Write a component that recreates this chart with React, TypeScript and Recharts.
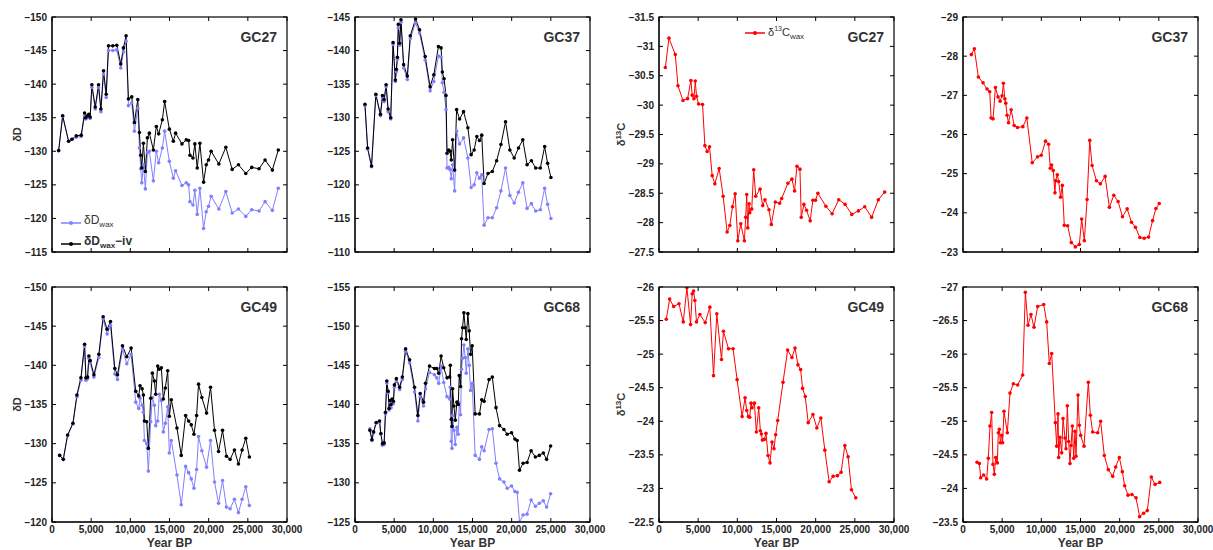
import { LineChart, Line, XAxis, YAxis, Legend, Label } from 'recharts';

const FONT = '"Liberation Sans", Arial, Helvetica, sans-serif';
const BLUE = '#8080ff';
const BLACK = '#000000';
const RED = '#ff0000';

// layout of one panel (plot area is PLOT x PLOT)
const PLOT = 235;
const AXIS_W = 50;
const M_TOP = 10;
const M_RIGHT = 20;
const X_H = 35;
const TICK_LEN = 4;

const X_MAX = 30000;
const xTicks = [0, 5000, 10000, 15000, 20000, 25000, 30000];

// ---- GC27 dD ----
const gc27Years = [850, 1360, 2120, 2550, 3100, 3730, 4160, 4300, 4500, 4700, 4870, 5090, 5520, 5940, 6240, 6580, 6920, 7210, 7760, 8270, 8780, 9120, 9460, 9760, 10180, 10520, 10950, 11160, 11330, 11460, 11670, 11920, 12180, 12430, 12940, 13320, 13620, 14090, 14380, 14980, 15490, 15780, 16590, 17140, 17440, 17610, 17990, 18240, 18540, 18880, 19350, 19690, 19980, 20320, 21300, 22190, 23000, 23800, 24740, 25500, 26430, 27200, 28130, 28890];
const gc27Iv = [-130.1, -135.3, -131.5, -131.8, -132.3, -132.4, -135.7, -135.0, -135.3, -135.5, -135.1, -139.9, -136.6, -139.9, -136.3, -142.0, -138.5, -145.7, -145.7, -145.8, -143.0, -145.4, -147.2, -137.8, -138.1, -134.3, -137.7, -132.8, -129.4, -127.5, -131.2, -127.0, -132.0, -132.7, -130.2, -133.7, -132.6, -134.7, -137.4, -133.3, -131.5, -132.7, -131.1, -131.7, -131.6, -129.4, -129.0, -131.1, -127.5, -131.2, -125.4, -128.0, -128.7, -130.0, -128.1, -130.6, -127.3, -128.0, -126.7, -127.6, -127.4, -128.7, -127.2, -130.2];
const gc27Wax = [-130.1, -135.2, -131.5, -131.8, -132.1, -132.2, -135.3, -134.8, -135.0, -135.2, -134.9, -139.5, -136.3, -139.5, -135.9, -141.5, -138.0, -145.0, -145.0, -145.1, -142.4, -144.8, -146.4, -136.8, -137.2, -133.0, -136.4, -130.5, -127.4, -125.3, -128.0, -124.4, -129.8, -130.0, -125.6, -130.0, -128.3, -130.5, -133.0, -128.5, -126.0, -127.1, -124.9, -125.3, -125.0, -122.5, -122.0, -124.2, -120.6, -124.5, -118.5, -121.0, -121.8, -123.3, -121.4, -124.0, -120.8, -121.4, -120.3, -121.3, -121.1, -122.5, -121.2, -124.5];

// ---- GC37 dD ----
const gc37Years = [1270, 1610, 2110, 2660, 3250, 3510, 3720, 3970, 4230, 4560, 4860, 5150, 5280, 5410, 5530, 5700, 5870, 6210, 6680, 7060, 7730, 8240, 8960, 9590, 10060, 10650, 10990, 11150, 11370, 11620, 11750, 11960, 12130, 12290, 12460, 12720, 12970, 13350, 13860, 14410, 14830, 15210, 15550, 15890, 16180, 16480, 16980, 17530, 18080, 18630, 19220, 19770, 20320, 20870, 21420, 21970, 22520, 23070, 23660, 24210, 24590, 25010];
const gc37Iv = [-132.0, -125.5, -122.8, -133.5, -130.5, -133.3, -132.7, -134.9, -131.3, -130.0, -141.2, -135.6, -137.2, -139.0, -143.9, -141.1, -144.6, -137.9, -136.2, -142.2, -144.7, -143.1, -139.1, -134.6, -136.4, -140.6, -140.4, -136.8, -135.8, -133.3, -124.7, -125.2, -125.0, -123.7, -126.7, -122.2, -131.2, -129.8, -130.9, -128.5, -124.5, -125.2, -127.2, -126.6, -127.4, -120.2, -121.7, -122.0, -123.6, -126.0, -129.4, -125.2, -124.0, -125.5, -126.7, -123.0, -123.6, -122.5, -122.5, -125.7, -123.2, -121.1];
const gc37Wax = [-131.8, -125.3, -122.7, -133.3, -130.3, -133.0, -132.4, -134.6, -130.9, -129.8, -140.9, -135.4, -136.9, -138.7, -143.4, -140.8, -144.2, -137.4, -135.7, -141.8, -144.1, -142.6, -138.6, -134.0, -135.4, -139.2, -139.0, -135.2, -133.8, -131.2, -122.5, -122.6, -122.3, -120.9, -123.0, -119.1, -128.0, -126.1, -127.0, -124.0, -119.6, -120.0, -121.8, -121.0, -121.5, -114.0, -115.1, -115.1, -116.6, -119.1, -122.5, -118.4, -117.3, -118.9, -120.3, -116.5, -117.2, -116.1, -116.3, -119.5, -117.1, -115.0];

// ---- GC49 dD ----
const gc49Years = [980, 1440, 1990, 2670, 3180, 3690, 4160, 4330, 4540, 4710, 4880, 5350, 5980, 6530, 7040, 7470, 8020, 8360, 9000, 9550, 10100, 10690, 11070, 11240, 11500, 11670, 11800, 12090, 12300, 12600, 12810, 13070, 13240, 13490, 13700, 13960, 14210, 14470, 14770, 14980, 15230, 15950, 16500, 17060, 17440, 17780, 18120, 18460, 18710, 19130, 19730, 20240, 20750, 21260, 21770, 22270, 22740, 23290, 23800, 24270, 24740, 25200];
const gc49Iv = [-128.5, -128.0, -131.1, -132.6, -136.2, -138.4, -142.7, -138.4, -138.5, -141.2, -140.6, -138.8, -141.4, -146.2, -144.6, -145.6, -139.6, -138.8, -142.5, -141.1, -142.2, -136.7, -136.1, -137.4, -137.0, -136.2, -132.9, -132.8, -129.4, -135.8, -139.0, -138.0, -136.3, -139.9, -139.5, -139.7, -135.7, -137.1, -139.3, -133.5, -135.6, -132.0, -128.5, -133.6, -132.9, -132.4, -131.2, -133.6, -137.6, -135.9, -133.9, -137.2, -131.7, -129.0, -131.7, -128.4, -128.0, -129.2, -127.4, -129.2, -130.7, -128.3];
const gc49Wax = [-128.5, -128.0, -131.0, -132.5, -136.0, -138.1, -142.4, -138.1, -138.3, -140.9, -140.3, -138.5, -141.0, -145.9, -144.0, -145.1, -138.9, -138.2, -142.0, -140.2, -141.4, -135.3, -134.5, -135.8, -134.9, -134.0, -130.4, -130.0, -126.5, -132.8, -135.9, -134.9, -132.3, -132.9, -136.3, -135.5, -131.5, -132.6, -134.7, -128.8, -130.4, -126.0, -122.2, -127.1, -126.3, -125.5, -124.3, -126.7, -130.9, -129.1, -127.0, -130.4, -125.1, -122.4, -125.3, -121.9, -121.7, -122.9, -121.2, -122.9, -124.5, -122.1];

// ---- GC68 dD ----
const gc68Years = [1900, 2160, 2370, 2700, 3130, 3300, 3510, 3720, 3890, 4060, 4230, 4350, 4480, 4610, 4730, 4900, 5030, 5280, 5700, 6040, 6460, 6970, 7600, 8030, 8320, 8750, 9000, 9510, 10140, 10440, 10690, 10990, 11320, 11750, 12080, 12170, 12290, 12380, 12460, 12630, 12800, 13010, 13180, 13310, 13480, 13600, 13730, 13900, 14070, 14200, 14410, 14580, 14750, 14960, 15340, 15890, 16180, 16480, 17110, 17530, 18000, 18460, 19010, 19430, 19980, 20410, 20700, 21000, 21460, 21970, 22480, 23030, 23530, 24040, 24460, 24970];
const gc68Iv = [-136.7, -135.5, -136.5, -137.7, -137.9, -136.3, -135.0, -135.1, -139.0, -143.0, -141.7, -139.5, -140.5, -140.0, -140.7, -140.4, -142.5, -143.3, -142.2, -143.5, -147.1, -145.7, -142.2, -138.6, -141.4, -140.3, -142.7, -144.9, -144.6, -144.6, -144.0, -146.2, -144.7, -143.4, -143.5, -145.0, -138.1, -137.2, -142.0, -139.8, -138.0, -140.3, -140.0, -143.7, -142.3, -148.4, -149.8, -151.7, -149.8, -148.3, -151.6, -149.4, -146.4, -147.5, -138.8, -138.8, -140.6, -140.4, -143.2, -143.5, -139.6, -137.3, -136.8, -136.2, -136.4, -135.6, -135.4, -131.6, -132.5, -132.6, -134.1, -133.3, -133.5, -133.8, -133.0, -134.7];
const gc68Wax = [-136.9, -135.4, -136.4, -137.6, -137.7, -136.2, -134.8, -134.9, -138.8, -142.7, -141.5, -139.3, -140.2, -139.6, -140.4, -140.1, -142.2, -143.0, -141.9, -143.2, -146.8, -145.3, -141.6, -137.9, -141.0, -139.8, -142.0, -144.1, -143.8, -143.4, -142.7, -144.9, -142.8, -141.0, -140.7, -142.2, -135.3, -134.4, -138.6, -136.7, -134.9, -137.1, -136.2, -140.2, -138.7, -144.5, -145.9, -147.6, -146.0, -144.0, -147.1, -145.0, -141.8, -142.7, -133.5, -133.0, -134.6, -134.1, -136.8, -136.9, -132.5, -130.5, -130.1, -129.3, -129.6, -128.9, -128.8, -125.0, -125.9, -126.0, -127.8, -127.0, -127.4, -127.7, -126.9, -128.6];

// ---- GC27 d13C ----
const c27Years = [810, 1270, 2080, 2420, 3060, 3650, 4070, 4240, 4460, 4630, 4790, 5050, 5560, 5860, 6150, 6450, 6790, 7130, 7680, 8190, 8700, 9040, 9380, 9720, 10060, 10440, 10900, 11070, 11200, 11330, 11500, 11580, 11840, 12090, 12350, 12900, 13240, 13530, 14040, 14340, 14850, 15400, 15660, 16460, 16970, 17310, 17610, 17990, 18160, 18500, 18840, 19300, 19640, 19980, 20280, 21300, 22100, 22950, 23760, 24610, 25460, 26260, 27150, 28000, 28810];
const c27Vals = [-30.64, -31.14, -30.86, -30.33, -30.08, -30.11, -30.42, -30.17, -30.11, -30.41, -30.15, -30.02, -30.01, -29.31, -29.21, -29.29, -28.8, -28.66, -28.92, -28.45, -27.84, -27.95, -28.27, -28.49, -27.69, -27.98, -27.69, -28.09, -28.48, -27.91, -28.32, -28.17, -28.23, -28.9, -28.45, -28.57, -28.29, -28.39, -28.22, -27.97, -28.35, -28.33, -28.41, -28.67, -28.74, -28.54, -28.96, -28.91, -28.09, -28.31, -28.21, -28.03, -28.38, -28.38, -28.5, -28.28, -28.15, -28.39, -28.31, -28.14, -28.2, -28.27, -28.09, -28.39, -28.52];

// ---- GC37 d13C ----
const c37Years = [1070, 1450, 1960, 2560, 3070, 3410, 3590, 3840, 4140, 4480, 4740, 4990, 5160, 5340, 5460, 5630, 5810, 6150, 6530, 6960, 7640, 8150, 8840, 9520, 9990, 10540, 10930, 11140, 11310, 11520, 11740, 11820, 12040, 12210, 12460, 12680, 12930, 13360, 13830, 14340, 14850, 15150, 15490, 15840, 16180, 16480, 17030, 17540, 18140, 18690, 19250, 19800, 20360, 20960, 21510, 22020, 22580, 23130, 23690, 24200, 24630, 25050];
const c37Vals = [-28.04, -28.19, -27.47, -27.32, -27.16, -27.09, -26.42, -26.4, -27.2, -26.96, -26.85, -26.99, -27.31, -26.91, -26.8, -26.49, -26.3, -26.63, -26.23, -26.18, -26.2, -26.42, -25.28, -25.43, -25.47, -25.83, -25.75, -25.14, -25.22, -25.08, -24.51, -24.82, -24.97, -24.8, -24.4, -24.7, -23.68, -23.67, -23.24, -23.13, -23.19, -23.84, -23.29, -24.34, -25.85, -25.21, -24.82, -24.74, -24.93, -24.14, -24.45, -24.29, -23.9, -24.1, -23.76, -23.63, -23.37, -23.35, -23.38, -23.8, -24.11, -24.24];

// ---- GC49 d13C ----
const c49Years = [930, 1360, 1870, 2550, 3100, 3560, 4030, 4240, 4410, 4580, 4790, 5220, 5900, 6490, 6960, 7380, 7980, 8230, 8870, 9460, 9970, 10610, 10990, 11200, 11410, 11580, 11750, 11880, 12180, 12430, 12730, 12940, 13070, 13200, 13450, 13660, 13920, 14170, 14430, 14680, 14890, 15150, 15830, 16420, 16970, 17360, 17740, 18080, 18330, 18670, 19050, 19650, 20150, 20660, 21170, 21720, 22230, 22780, 23250, 23720, 24140, 24570, 25120];
const c49Vals = [-25.52, -25.82, -25.71, -25.75, -25.48, -25.99, -25.44, -25.9, -25.94, -25.8, -25.48, -25.59, -25.47, -25.7, -24.68, -25.6, -24.92, -25.34, -25.08, -25.08, -24.62, -24.07, -24.35, -24.16, -24.07, -24.06, -24.27, -24.2, -24.27, -23.84, -24.2, -23.86, -23.81, -23.72, -23.73, -23.82, -23.49, -23.38, -23.69, -23.59, -23.8, -24.01, -24.58, -25.06, -24.95, -25.09, -24.84, -24.77, -24.49, -24.37, -23.98, -24.1, -23.9, -24.05, -23.57, -23.1, -23.18, -23.19, -23.24, -23.64, -23.47, -22.98, -22.86];

// ---- GC68 d13C ----
const c68Years = [1790, 2090, 2260, 2640, 3020, 3230, 3450, 3660, 3830, 4000, 4170, 4380, 4510, 4640, 4770, 4940, 5060, 5230, 5660, 6000, 6430, 6980, 7620, 7960, 8300, 8680, 9060, 9530, 10300, 10680, 11020, 11320, 11790, 11960, 12130, 12210, 12380, 12600, 12770, 13020, 13150, 13320, 13490, 13660, 13790, 13960, 14130, 14300, 14430, 14680, 14850, 15020, 15450, 16000, 16260, 16550, 17190, 17570, 18040, 18550, 19110, 19490, 19960, 20340, 20640, 21060, 21570, 22090, 22550, 23060, 23530, 24040, 24510, 25110];
const c68Vals = [-24.39, -24.37, -24.16, -24.2, -24.14, -24.45, -24.93, -25.13, -24.36, -24.21, -24.46, -24.38, -24.83, -24.88, -24.68, -24.79, -24.68, -25.15, -24.83, -25.42, -25.56, -25.54, -25.69, -26.92, -26.43, -26.59, -26.4, -26.71, -26.74, -26.48, -25.86, -26.01, -24.98, -24.63, -25.11, -24.46, -24.76, -24.53, -25.04, -24.75, -24.59, -25.23, -24.7, -24.37, -24.64, -24.93, -24.45, -24.85, -24.48, -25.39, -24.94, -24.79, -24.63, -25.58, -25.09, -24.84, -24.83, -25.0, -24.49, -24.28, -24.18, -24.32, -24.46, -24.25, -24.04, -23.9, -23.91, -23.86, -23.58, -23.63, -23.67, -24.17, -24.06, -24.09];

// y ticks
const ticks27dD = [-150, -145, -140, -135, -130, -125, -120, -115];
const ticks37dD = [-145, -140, -135, -130, -125, -120, -115, -110];
const ticks49dD = [-150, -145, -140, -135, -130, -125, -120];
const ticks68dD = [-155, -150, -145, -140, -135, -130, -125];
const ticks27c = [-31.5, -31, -30.5, -30, -29.5, -29, -28.5, -28, -27.5];
const ticks37c = [-29, -28, -27, -26, -25, -24, -23];
const ticks49c = [-26, -25.5, -25, -24.5, -24, -23.5, -23, -22.5];
const ticks68c = [-27, -26.5, -26, -25.5, -25, -24.5, -24, -23.5];

const dDRows = (years: number[], wax: number[], iv: number[]) =>
  years.map((year, i) => ({ year, wax: wax[i], iv: iv[i] }));
const cRows = (years: number[], vals: number[]) =>
  years.map((year, i) => ({ year, c13: vals[i] }));

const dDSeries = [
  { key: 'wax', color: BLUE },
  { key: 'iv', color: BLACK },
];
const cSeries = [{ key: 'c13', color: RED }];

const minus = (v: number) => (v < 0 ? '\u2212' + Math.abs(v) : String(v));
const thousands = (v: number) => v.toLocaleString('en-US');

const tickText = {
  fontSize: 10,
  fontWeight: 'bold' as const,
  fill: '#222',
  fontFamily: FONT,
};

// ticks point inward (MATLAB style); each tick is mirrored on the opposite frame side
const leftTick = (p: any) => (
  <g>
    <line x1={p.x + 5} x2={p.x + 5 + TICK_LEN} y1={p.y} y2={p.y} stroke="#000" />
    <line x1={p.x + 5 + PLOT} x2={p.x + 5 + PLOT - TICK_LEN} y1={p.y} y2={p.y} stroke="#000" />
    <text x={p.x} y={p.y} dy="0.35em" textAnchor="end" {...tickText}>
      {minus(p.payload.value)}
    </text>
  </g>
);
const bottomTick = (show: boolean) => (p: any) => (
  <g>
    <line x1={p.x} x2={p.x} y1={p.y - 3} y2={p.y - 3 - TICK_LEN} stroke="#000" />
    <line x1={p.x} x2={p.x} y1={p.y - 3 - PLOT} y2={p.y - 3 - PLOT + TICK_LEN} stroke="#000" />
    {show && (
      <text x={p.x} y={p.y + 1} dy="0.71em" textAnchor="middle" {...tickText}>
        {thousands(p.payload.value)}
      </text>
    )}
  </g>
);

const yLabel = (kind: string) => (p: any) => {
  const vb = p.viewBox;
  const x = vb.x + (kind === 'dD' ? 19 : 16);
  const y = vb.y + vb.height / 2;
  return (
    <text
      x={x}
      y={y}
      transform={`rotate(-90, ${x}, ${y})`}
      textAnchor="middle"
      fontSize={11}
      fontWeight="bold"
      fill="#333"
      fontFamily={FONT}
    >
      {kind === 'dD' ? (
        '\u03b4D'
      ) : (
        <>
          <tspan>{'\u03b4'}</tspan>
          <tspan dy={-4} fontSize={8}>13</tspan>
          <tspan dy={4}>C</tspan>
        </>
      )}
    </text>
  );
};

const xLabel = (p: any) => {
  const vb = p.viewBox;
  return (
    <text
      x={vb.x + vb.width / 2}
      y={vb.y + 25}
      textAnchor="middle"
      fontSize={12}
      fontWeight="bold"
      fill="#333"
      fontFamily={FONT}
    >
      Year BP
    </text>
  );
};

const Swatch = ({ color }: { color: string }) => (
  <svg width={20} height={8} style={{ marginRight: 3 }}>
    <line x1={0} x2={20} y1={4} y2={4} stroke={color} strokeWidth={1.5} />
    <circle cx={10} cy={4} r={2} fill={color} />
  </svg>
);

const legendText = { fontFamily: FONT, fontSize: 12, color: '#333', whiteSpace: 'nowrap' as const };
const subStyle = { fontSize: 8, verticalAlign: 'sub' as const };

const dDLegend = () => (
  <div style={{ ...legendText, lineHeight: '17px' }}>
    <div style={{ display: 'flex', alignItems: 'center' }}>
      <Swatch color={BLUE} />
      <span>
        δD<span style={subStyle}>wax</span>
      </span>
    </div>
    <div style={{ display: 'flex', alignItems: 'center', fontWeight: 'bold' }}>
      <Swatch color={BLACK} />
      <span>
        δD<span style={subStyle}>wax</span>−iv
      </span>
    </div>
  </div>
);

const cLegend = () => (
  <div style={{ ...legendText, fontSize: 11, display: 'flex', alignItems: 'center' }}>
    <Swatch color={RED} />
    <span>
      δ<span style={{ fontSize: 7, verticalAlign: 'super' }}>13</span>C
      <span style={subStyle}>wax</span>
    </span>
  </div>
);

const panels = [
  { id: 'a', left: 52, top: 17, data: dDRows(gc27Years, gc27Wax, gc27Iv), series: dDSeries, ticks: ticks27dD, y: 'dD', title: 'GC27', legend: 'dD', xl: false },
  { id: 'b', left: 355, top: 17, data: dDRows(gc37Years, gc37Wax, gc37Iv), series: dDSeries, ticks: ticks37dD, y: '', title: 'GC37', legend: '', xl: false },
  { id: 'c', left: 659, top: 17, data: cRows(c27Years, c27Vals), series: cSeries, ticks: ticks27c, y: 'c', title: 'GC27', legend: 'c', xl: false },
  { id: 'd', left: 963, top: 17, data: cRows(c37Years, c37Vals), series: cSeries, ticks: ticks37c, y: '', title: 'GC37', legend: '', xl: false },
  { id: 'e', left: 52, top: 287, data: dDRows(gc49Years, gc49Wax, gc49Iv), series: dDSeries, ticks: ticks49dD, y: 'dD', title: 'GC49', legend: '', xl: true },
  { id: 'f', left: 355, top: 287, data: dDRows(gc68Years, gc68Wax, gc68Iv), series: dDSeries, ticks: ticks68dD, y: '', title: 'GC68', legend: '', xl: true },
  { id: 'g', left: 659, top: 287, data: cRows(c49Years, c49Vals), series: cSeries, ticks: ticks49c, y: 'c', title: 'GC49', legend: '', xl: true },
  { id: 'h', left: 963, top: 287, data: cRows(c68Years, c68Vals), series: cSeries, ticks: ticks68c, y: '', title: 'GC68', legend: '', xl: true },
];

function Panel({ p }: { p: (typeof panels)[number] }) {
  const W = AXIS_W + PLOT + M_RIGHT;
  const H = M_TOP + PLOT + X_H;
  const yTop = p.ticks[0];
  const yBottom = p.ticks[p.ticks.length - 1];
  const axisLine = { stroke: '#000', strokeWidth: 1 };
  return (
    <div style={{ position: 'absolute', left: p.left - AXIS_W, top: p.top - M_TOP, width: W, height: H }}>
      <LineChart width={W} height={H} data={p.data} margin={{ top: M_TOP, right: M_RIGHT, bottom: 0, left: 0 }}>
        <XAxis
          dataKey="year"
          type="number"
          domain={[0, X_MAX]}
          ticks={xTicks}
          interval={0}
          allowDataOverflow
          height={X_H}
          tickLine={false}
          tickSize={0}
          tickMargin={3}
          axisLine={axisLine}
          tick={bottomTick(p.xl)}
        >
          {p.xl && <Label content={xLabel} />}
        </XAxis>
        <YAxis
          type="number"
          reversed
          domain={[yTop, yBottom]}
          ticks={p.ticks}
          interval={0}
          allowDataOverflow
          width={AXIS_W}
          tickLine={false}
          tickSize={0}
          tickMargin={5}
          axisLine={axisLine}
          tick={leftTick}
        >
          {p.y && <Label content={yLabel(p.y)} />}
        </YAxis>
        {p.series.map((s) => (
          <Line
            key={s.key}
            dataKey={s.key}
            type="linear"
            stroke={s.color}
            strokeWidth={1}
            dot={{ r: 1.8, fill: s.color, stroke: s.color, strokeWidth: 0 }}
            activeDot={false}
            isAnimationActive={false}
          />
        ))}
        {p.legend === 'dD' && (
          <Legend
            layout="vertical"
            align="center"
            verticalAlign="middle"
            wrapperStyle={{ left: 59, top: 205, width: 'auto' }}
            content={dDLegend}
          />
        )}
        {p.legend === 'c' && (
          <Legend
            layout="vertical"
            align="center"
            verticalAlign="middle"
            wrapperStyle={{ left: 136, top: 18, width: 'auto' }}
            content={cLegend}
          />
        )}
      </LineChart>
      {/* box frame around the plot area, drawn on top of the chart */}
      <svg
        width={W}
        height={H}
        style={{ position: 'absolute', left: 0, top: 0, pointerEvents: 'none', zIndex: 2 }}
      >
        <rect x={AXIS_W} y={M_TOP} width={PLOT} height={PLOT} fill="none" stroke="#000" strokeWidth={1.2} />
      </svg>
      <div
        style={{
          position: 'absolute',
          right: M_RIGHT + 10,
          top: M_TOP + 12,
          fontFamily: FONT,
          fontWeight: 'bold',
          fontSize: 14,
          lineHeight: '16px',
          color: '#333',
          zIndex: 3,
        }}
      >
        {p.title}
      </div>
    </div>
  );
}

export default function App() {
  return (
    <div style={{ position: 'absolute', left: 0, top: 0, width: 1213, height: 550, background: '#fff' }}>
      {panels.map((p) => (
        <Panel key={p.id} p={p} />
      ))}
    </div>
  );
}
